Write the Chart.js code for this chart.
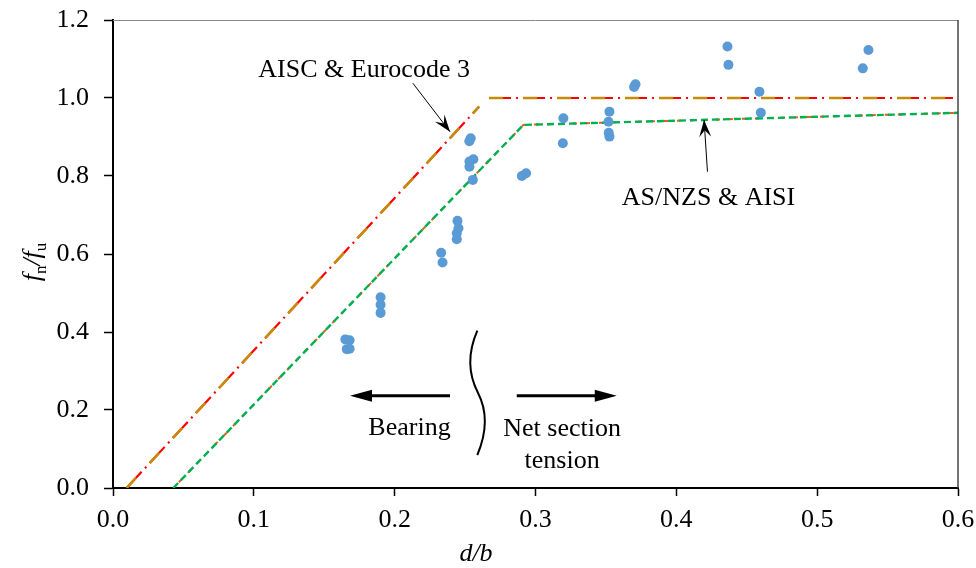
<!DOCTYPE html>
<html>
<head>
<meta charset="utf-8">
<script src="https://cdn.jsdelivr.net/npm/chart.js@4/dist/chart.umd.min.js"></script>
<style>
  html, body { margin: 0; padding: 0; background: #fff; }
  #wrap { width: 976px; height: 568px; position: relative; }
</style>
</head>
<body>
<div id="wrap"><canvas id="fn-chart"></canvas></div>
<script>
// test results, d/b vs fn/fu
var testDb = [0.165, 0.168, 0.166, 0.168, 0.190, 0.190, 0.190, 0.233, 0.234,
    0.2446, 0.2453, 0.2441, 0.2441, 0.253, 0.254, 0.2559, 0.2531, 0.2531, 0.2555,
    0.2903, 0.2933, 0.3198, 0.3194, 0.3525, 0.3518, 0.352, 0.3525, 0.370, 0.371,
    0.4363, 0.437, 0.459, 0.460, 0.5364, 0.5324];
var testFn = [0.381, 0.379, 0.356, 0.357, 0.489, 0.470, 0.449, 0.603, 0.578,
    0.685, 0.666, 0.653, 0.638, 0.889, 0.897, 0.843, 0.837, 0.824, 0.790,
    0.800, 0.807, 0.948, 0.884, 0.965, 0.939, 0.911, 0.901, 1.028, 1.035,
    1.132, 1.085, 1.016, 0.962, 1.123, 1.076];

// design curves (AISC & Eurocode 3 overlap, AS/NZS & AISI overlap)
var aiscDb = [0.0097, 0.260, 0.2635, 0.267, 0.6];
var aiscFn = [0, 0.978, null, 1.0, 1.0];
var asnzsDb = [0.0428, 0.2914, 0.6];
var asnzsFn = [0, 0.931, 0.962];

var xTicks = [0, 0.1, 0.2, 0.3, 0.4, 0.5, 0.6];
var yTicks = [0, 0.2, 0.4, 0.6, 0.8, 1.0, 1.2];

function toPoints(xs, ys) {
    return xs.map((x, i) => ({ x: x, y: ys[i] }));
}

var serif = "'Liberation Serif', 'Times New Roman', serif";

// annotation positions in data units
var notes = {
    aisc: { x: 0.1032, y: 1.054, text: "AISC & Eurocode 3" },
    aiscArrow: [0.2129, 1.038, 0.2393, 0.9136],
    asnzs: { x: 0.3613, y: 0.7256, text: "AS/NZS & AISI" },
    asnzsArrow: [0.4221, 0.811, 0.4197, 0.9436],
    bearing: { x: 0.1813, y: 0.1367, text: "Bearing" },
    net1: { x: 0.3189, y: 0.1333, text: "Net section" },
    net2: { x: 0.3189, y: 0.052, text: "tension" },
    leftArrow: [0.2393, 0.2367, 0.1683, 0.2367],
    rightArrow: [0.2867, 0.2367, 0.3577, 0.2367],
};

function stealthHead(ctx, x0, y0, x1, y1, len, half) {
    var a = Math.atan2(y1 - y0, x1 - x0);
    var c = Math.cos(a), s = Math.sin(a);
    ctx.beginPath();
    ctx.moveTo(x1, y1);
    ctx.lineTo(x1 - len * c + half * s, y1 - len * s - half * c);
    ctx.lineTo(x1 - len * 0.6 * c, y1 - len * 0.6 * s);
    ctx.lineTo(x1 - len * c - half * s, y1 - len * s + half * c);
    ctx.closePath();
    ctx.fill();
}

var annotatePlugin = {
    id: "annotate",
    afterDatasetsDraw(chart) {
        var ctx = chart.ctx;
        var xs = chart.scales.x, ys = chart.scales.y;
        var px = (v) => xs.getPixelForValue(v);
        var py = (v) => ys.getPixelForValue(v);
        var area = chart.chartArea;
        ctx.save();

        // frame top / right
        ctx.strokeStyle = "#8a8a8a";
        ctx.lineWidth = 1;
        ctx.beginPath();
        ctx.moveTo(area.left, area.top + 0.5);
        ctx.lineTo(area.right, area.top + 0.5);
        ctx.stroke();
        ctx.strokeStyle = "#444";
        ctx.lineWidth = 1.5;
        ctx.beginPath();
        ctx.moveTo(area.right, area.top);
        ctx.lineTo(area.right, area.bottom);
        ctx.stroke();

        ctx.fillStyle = "#000";
        ctx.strokeStyle = "#000";
        ctx.font = "26px " + serif;
        ctx.textBaseline = "alphabetic";
        ctx.textAlign = "left";
        [notes.aisc, notes.asnzs, notes.bearing].forEach((n) => {
            ctx.fillText(n.text, px(n.x), py(n.y));
        });
        ctx.textAlign = "center";
        [notes.net1, notes.net2].forEach((n) => {
            ctx.fillText(n.text, px(n.x), py(n.y));
        });

        // thin pointer arrows
        [notes.aiscArrow, notes.asnzsArrow].forEach((a) => {
            var x0 = px(a[0]), y0 = py(a[1]), x1 = px(a[2]), y1 = py(a[3]);
            ctx.lineWidth = 1;
            ctx.beginPath();
            ctx.moveTo(x0, y0);
            ctx.lineTo(x1, y1);
            ctx.stroke();
            stealthHead(ctx, x0, y0, x1, y1, 17, 6);
        });

        // bearing / net section arrows
        [notes.leftArrow, notes.rightArrow].forEach((a) => {
            var x0 = px(a[0]), y0 = py(a[1]), x1 = px(a[2]), y1 = py(a[3]);
            var dir = Math.sign(x1 - x0);
            ctx.lineWidth = 3;
            ctx.beginPath();
            ctx.moveTo(x0, y0);
            ctx.lineTo(x1 - dir * 14, y1);
            ctx.stroke();
            ctx.beginPath();
            ctx.moveTo(x1, y1);
            ctx.lineTo(x1 - dir * 22, y1 - 6);
            ctx.lineTo(x1 - dir * 22, y1 + 6);
            ctx.closePath();
            ctx.fill();
        });

        // wavy divider
        var bx = px(0.2587);
        ctx.lineWidth = 2;
        ctx.beginPath();
        ctx.moveTo(bx, py(0.4033));
        ctx.quadraticCurveTo(px(0.2484), py(0.3179), px(0.2592), py(0.2436));
        ctx.quadraticCurveTo(px(0.2691), py(0.1744), bx, py(0.0846));
        ctx.stroke();

        // axis titles
        ctx.font = "italic 26px " + serif;
        ctx.textAlign = "center";
        ctx.fillText("d/b", 476, 561);

        ctx.translate(40, 262);
        ctx.rotate(-Math.PI / 2);
        var parts = [
            ["italic 26px ", "f", 0],
            ["17px ", "n", 6],
            ["italic 26px ", "/", 0],
            ["italic 26px ", "f", 0],
            ["17px ", "u", 6],
        ];
        var total = 0;
        parts.forEach((p) => {
            ctx.font = p[0] + serif;
            total += ctx.measureText(p[1]).width;
        });
        var cx = -total / 2;
        ctx.textAlign = "left";
        parts.forEach((p) => {
            ctx.font = p[0] + serif;
            ctx.fillText(p[1], cx, p[2]);
            cx += ctx.measureText(p[1]).width;
        });
        ctx.restore();
    },
};

var fnConfig = {
    type: "scatter",
    data: {
        datasets: [
            {
                label: "Test",
                data: toPoints(testDb, testFn),
                backgroundColor: "#5b9bd5",
                borderWidth: 0,
                pointRadius: 5,
                order: 0,
            },
            {
                label: "Eurocode 3",
                data: toPoints(aiscDb, aiscFn),
                showLine: true,
                spanGaps: false,
                borderColor: "#c88a0a",
                borderWidth: 2.6,
                borderDash: [14, 20],
                pointRadius: 0,
                order: 1,
            },
            {
                label: "AISC",
                data: toPoints(aiscDb, aiscFn),
                showLine: true,
                spanGaps: false,
                borderColor: "#ff0000",
                borderWidth: 2.2,
                borderDash: [22, 5, 2, 5],
                pointRadius: 0,
                order: 2,
            },
            {
                label: "AS/NZS",
                data: toPoints(asnzsDb, asnzsFn),
                showLine: true,
                borderColor: "#00b050",
                borderWidth: 2.4,
                borderDash: [7, 4],
                pointRadius: 0,
                order: 3,
            },
            {
                label: "AISI",
                data: toPoints(asnzsDb, asnzsFn),
                showLine: true,
                borderColor: "#e0601a",
                borderWidth: 2,
                borderDash: [4, 9],
                borderDashOffset: 5,
                pointRadius: 0,
                order: 4,
            },
        ],
    },
    options: {
        responsive: false,
        animation: false,
        layout: { padding: { left: 0, right: 18, top: 20, bottom: 0 } },
        plugins: {
            legend: { display: false },
            tooltip: { enabled: false },
        },
        scales: {
            x: {
                type: "linear",
                min: 0,
                max: 0.6,
                afterFit: (s) => {
                    s.height = 80;
                    s.paddingLeft = 0;
                    s.paddingRight = 0;
                },
                afterBuildTicks: (s) => { s.ticks = xTicks.map((v) => ({ value: v })); },
                ticks: {
                    color: "#000",
                    font: { family: serif, size: 26 },
                    padding: 9,
                    maxRotation: 0,
                    callback: (v) => Number(v).toFixed(1),
                },
                grid: { drawOnChartArea: false, tickLength: 8, tickColor: "#000", tickWidth: 1.5 },
                border: { color: "#000", width: 2 },
            },
            y: {
                type: "linear",
                min: 0,
                max: 1.2,
                afterFit: (s) => {
                    s.width = 113;
                    s.paddingTop = 0;
                    s.paddingBottom = 0;
                },
                afterBuildTicks: (s) => { s.ticks = yTicks.map((v) => ({ value: v })); },
                ticks: {
                    color: "#000",
                    font: { family: serif, size: 26 },
                    padding: 15,
                    callback: (v) => Number(v).toFixed(1),
                },
                grid: { drawOnChartArea: false, tickLength: 9, tickColor: "#000", tickWidth: 1.5 },
                border: { color: "#000", width: 2 },
            },
        },
    },
    plugins: [annotatePlugin],
};

var canvas = document.getElementById("fn-chart");
canvas.width = 976;
canvas.height = 568;
var fnChart = new Chart(canvas.getContext("2d"), fnConfig);
</script>
</body>
</html>
